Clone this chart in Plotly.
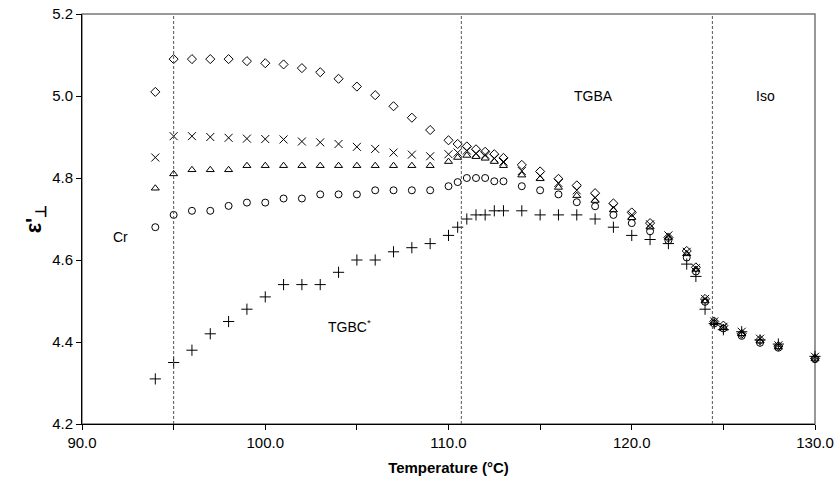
import plotly.graph_objects as go

# Temperatures (°C)
temperature = [94, 95, 96, 97, 98, 99, 100, 101, 102, 103, 104, 105, 106, 107, 108, 109, 110,
               110.5, 111, 111.5, 112, 112.5, 113,
               114, 115, 116, 117, 118, 119, 120, 121, 122, 123,
               123.5, 124, 124.5, 125, 126, 127, 128, 130]

s_diamond = [5.01, 5.09, 5.09, 5.09, 5.09, 5.085, 5.08, 5.077, 5.068, 5.058, 5.042, 5.023, 5.002, 4.975, 4.947, 4.917, 4.892,
             4.883, 4.877, 4.870, 4.864, 4.858, 4.849,
             4.832, 4.816, 4.798, 4.782, 4.763, 4.738, 4.716, 4.690, 4.655, 4.622,
             4.582, 4.505, 4.450, 4.440, 4.420, 4.405, 4.390, 4.360]

s_cross = [4.85, 4.902, 4.902, 4.90, 4.898, 4.896, 4.895, 4.894, 4.889, 4.887, 4.883, 4.876, 4.871, 4.862, 4.857, 4.853, 4.858,
           4.862, 4.867, 4.860, 4.857, 4.848, 4.840,
           4.817, 4.805, 4.788, 4.770, 4.752, 4.728, 4.710, 4.687, 4.660, 4.620,
           4.580, 4.505, 4.450, 4.437, 4.425, 4.408, 4.392, 4.364]

s_triangle = [4.775, 4.81, 4.82, 4.82, 4.82, 4.83, 4.83, 4.83, 4.83, 4.83, 4.83, 4.83, 4.83, 4.83, 4.83, 4.83, 4.84,
              4.85, 4.855, 4.852, 4.848, 4.84, 4.83,
              4.807, 4.798, 4.777, 4.757, 4.745, 4.722, 4.703, 4.680, 4.655, 4.615,
              4.577, 4.500, 4.447, 4.435, 4.420, 4.402, 4.388, 4.360]

s_circle = [4.68, 4.71, 4.72, 4.72, 4.732, 4.74, 4.74, 4.75, 4.75, 4.76, 4.76, 4.76, 4.77, 4.77, 4.77, 4.77, 4.78,
            4.79, 4.80, 4.80, 4.80, 4.792, 4.792,
            4.78, 4.77, 4.76, 4.741, 4.731, 4.71, 4.69, 4.67, 4.648, 4.606,
            4.572, 4.498, 4.445, 4.433, 4.415, 4.398, 4.386, 4.358]

s_plus = [4.31, 4.35, 4.38, 4.42, 4.45, 4.48, 4.51, 4.54, 4.54, 4.54, 4.57, 4.60, 4.60, 4.62, 4.63, 4.64, 4.66,
          4.68, 4.70, 4.71, 4.71, 4.72, 4.72,
          4.72, 4.71, 4.71, 4.71, 4.70, 4.68, 4.66, 4.65, 4.64, 4.59,
          4.56, 4.48, 4.445, 4.43, 4.425, 4.405, 4.395, 4.365]

transitions = [95.0, 110.7, 124.4]

phase_labels = ["Cr", "TGBC<sup>*</sup>", "TGBA", "Iso"]
phase_x = [92.1, 104.6, 117.9, 127.3]
phase_y = [4.655, 4.44, 5.0, 5.0]

x_tick_vals = [90, 100, 110, 120, 130]
x_tick_text = ["90.0", "100.0", "110.0", "120.0", "130.0"]

series = [
    (s_diamond, "diamond-open", 7),
    (s_cross, "x-thin-open", 8),
    (s_triangle, "triangle-up-open", 7),
    (s_circle, "circle-open", 7),
    (s_plus, "cross-thin-open", 8),
]

FONT = "Liberation Sans, Arial, sans-serif"

fig = go.Figure()
for vals, sym, size in series:
    fig.add_trace(go.Scatter(
        x=temperature, y=vals, mode="markers",
        marker=dict(symbol=sym, size=size, color="black",
                    line=dict(color="black", width=1)),
        showlegend=False, cliponaxis=False,
    ))

for t in transitions:
    fig.add_shape(type="line", xref="x", yref="y", x0=t, x1=t, y0=4.2, y1=5.2,
                  line=dict(color="#555555", width=1, dash="3px,2px"))

fig.add_shape(type="rect", xref="paper", yref="paper", x0=0, x1=1, y0=0, y1=1,
              line=dict(color="#777777", width=1.5), layer="below")

for txt, xx, yy in zip(phase_labels, phase_x, phase_y):
    fig.add_annotation(x=xx, y=yy, text=txt, showarrow=False,
                       font=dict(family=FONT, size=14, color="black"))

fig.update_layout(
    width=836, height=490,
    margin=dict(l=82, r=21, t=14, b=66, autoexpand=False),
    plot_bgcolor="white", paper_bgcolor="white",
    font=dict(family=FONT, color="black"),
    xaxis=dict(
        range=[90, 130], tickvals=x_tick_vals, ticktext=x_tick_text,
        ticks="outside", ticklen=5, tickcolor="black", tickwidth=1,
        minor=dict(dtick=5, tick0=90, ticks="outside", ticklen=5, tickcolor="black", tickwidth=1),
        showline=True, linecolor="black", linewidth=1, showgrid=False, zeroline=False,
        automargin=False, ticklabeloverflow="allow",
        tickfont=dict(family=FONT, size=15),
        title=dict(text="<b>Temperature (°C)</b>", font=dict(family=FONT, size=15), standoff=12),
    ),
    yaxis=dict(
        range=[4.2, 5.2], dtick=0.2, tick0=4.2, tickformat=".1f",
        ticks="outside", ticklen=5, tickcolor="black", tickwidth=1,
        showline=True, linecolor="black", linewidth=1, showgrid=False, zeroline=False,
        automargin=False, ticklabeloverflow="allow",
        tickfont=dict(family=FONT, size=15),
        title=dict(text="<b>ε'<sub>⊥</sub></b>", font=dict(family=FONT, size=22), standoff=4),
    ),
)

fig.write_html("out.html", config={"displayModeBar": False},
               post_script="document.body.style.margin='0';")
